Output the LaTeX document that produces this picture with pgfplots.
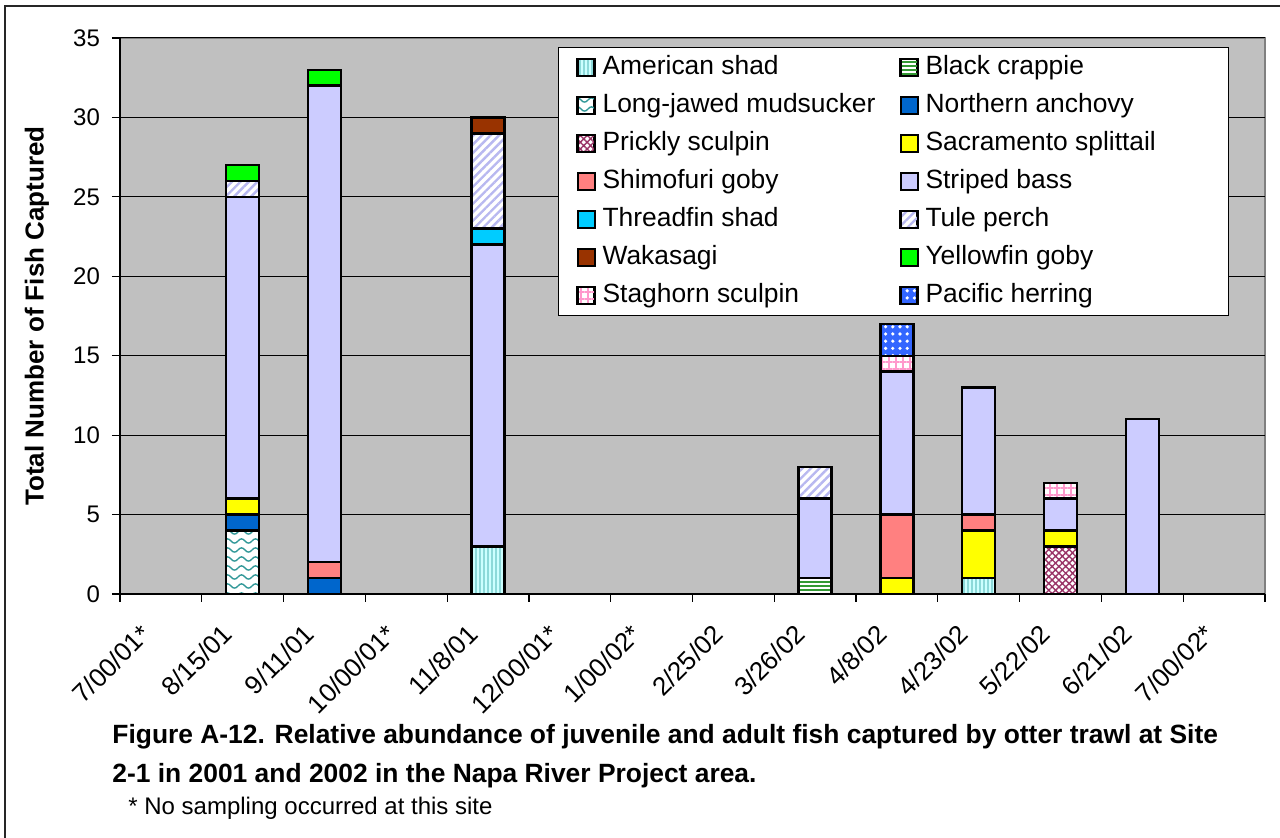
\documentclass[border=0pt]{standalone}
\usepackage{fontspec}
\setmainfont{Liberation Sans}
\usepackage{pgfplots}
\pgfplotsset{compat=1.18}
\usepackage{pgfplotstable}
\usetikzlibrary{patterns,patterns.meta}

\definecolor{plotbg}{HTML}{C0C0C0}
\definecolor{plotedge}{HTML}{808080}
\definecolor{shadbg}{HTML}{CCFFFF}
\definecolor{shadln}{HTML}{8CD9D9}
\definecolor{crappieln}{HTML}{339933}
\definecolor{mudln}{HTML}{339999}
\definecolor{anchovy}{HTML}{0066CC}
\definecolor{prickly}{HTML}{993366}
\definecolor{splittail}{HTML}{FFFF00}
\definecolor{shimofuri}{HTML}{FF8080}
\definecolor{bass}{HTML}{CCCCFF}
\definecolor{threadfin}{HTML}{00CCFF}
\definecolor{tule}{HTML}{B8B8F0}
\definecolor{wakasagi}{HTML}{993300}
\definecolor{yellowfin}{HTML}{00FF00}
\definecolor{staghorn}{HTML}{FF99CC}
\definecolor{herring}{HTML}{3366FF}

% wavy lines for the mudsucker
\pgfdeclarepatternformonly{waves}{\pgfqpoint{0pt}{-1.5pt}}{\pgfqpoint{7pt}{1.5pt}}{\pgfqpoint{7pt}{4.5pt}}{%
  \pgfsetlinewidth{0.7pt}%
  \pgfpathmoveto{\pgfqpoint{0pt}{0pt}}%
  \pgfpathcurveto{\pgfqpoint{1.2pt}{1.4pt}}{\pgfqpoint{2.3pt}{1.4pt}}{\pgfqpoint{3.5pt}{0pt}}%
  \pgfpathcurveto{\pgfqpoint{4.7pt}{-1.4pt}}{\pgfqpoint{5.8pt}{-1.4pt}}{\pgfqpoint{7pt}{0pt}}%
  \pgfusepath{stroke}}

% counts per sampling date (x = category index)
\pgfplotstableread{
x  shad crappie mud anchovy prickly split shimo bass thread tule waka yellow stag herring
1  0    0       4   1       0       1     0     19   0      1    0    1      0    0
2  0    0       0   1       0       0     1     30   0      0    0    1      0    0
4  3    0       0   0       0       0     0     19   1      6    1    0      0    0
8  0    1       0   0       0       0     0     5    0      2    0    0      0    0
9  0    0       0   0       0       1     4     9    0      0    0    0      1    2
10 1    0       0   0       0       3     1     8    0      0    0    0      0    0
11 0    0       0   0       3       1     0     2    0      0    0    0      1    0
12 0    0       0   0       0       0     0     11   0      0    0    0      0    0
}\fishdata

\begin{document}
\begin{tikzpicture}
\path[use as bounding box] (0,0) rectangle (640pt,419pt);
\draw[line width=1pt, black!85] (2.5pt,0) -- (2.5pt,416pt) -- (640pt,416pt);

\begin{axis}[
    at={(60pt,122pt)}, anchor=south west,
    scale only axis, width=572.5pt, height=278pt,
    ybar stacked, bar width=16.5pt,
    xmin=-0.5, xmax=13.5, ymin=0, ymax=35,
    ytick={0,5,...,35},
    xtick={-0.5,0.5,...,13.5}, xticklabels={},
    extra x ticks={0,1,...,13},
    extra x tick labels={7/00/01*,8/15/01,9/11/01,10/00/01*,11/8/01,12/00/01*,1/00/02*,2/25/02,3/26/02,4/8/02,4/23/02,5/22/02,6/21/02,7/00/02*},
    extra x tick style={major tick length=0pt,
        tick label style={font=\fontsize{13}{15}\selectfont, xshift=-11pt, yshift=-9.5pt, rotate=45, anchor=north east}},
    tick align=outside, major tick length=4pt,
    tick style={black, line width=0.6pt},
    tick label style={font=\fontsize{12}{14}\selectfont},
    yticklabel style={xshift=-2.5pt},
    /pgf/number format/assume math mode=true,
    ymajorgrids, grid style={black, line width=0.5pt},
    axis x line*=bottom, axis y line*=left,
    axis line style={black, line width=1pt},
    axis background/.style={fill=plotbg, draw=plotedge, line width=1pt},
    ylabel={Total Number of Fish Captured},
    ylabel style={font=\bfseries\fontsize{13}{15}\selectfont, at={(axis description cs:-0.0725,0.5)}, anchor=center},
    every axis plot/.append style={draw=black, line width=1.2pt},
    legend columns=2,
    legend cell align=left,
    legend image code/.code={\draw[#1, line width=1pt] (0pt,-4.25pt) rectangle (8.5pt,4.25pt);},
    legend style={at={(0.3825,0.984)}, anchor=north west, draw=black, line width=0.6pt, fill=white,
        font=\fontsize{13.2}{15}\selectfont, inner xsep=9pt, inner ysep=0.5pt,
        nodes={text height=10pt, text depth=3pt, inner ysep=3pt},
        /tikz/every odd column/.append style={column sep=1.5pt},
        /tikz/every even column/.append style={column sep=10pt}},
]
\addplot[preaction={fill=shadbg}, pattern={Lines[angle=90, distance=2pt, line width=0.6pt]}, pattern color=shadln] table[x=x, y=shad] {\fishdata};
\addlegendentry{American shad}
\addplot[preaction={fill=white}, pattern={Lines[angle=0, distance=2pt, line width=1pt]}, pattern color=crappieln] table[x=x, y=crappie] {\fishdata};
\addlegendentry{Black crappie}
\addplot[preaction={fill=white}, pattern=waves, pattern color=mudln] table[x=x, y=mud] {\fishdata};
\addlegendentry{Long-jawed mudsucker}
\addplot[fill=anchovy] table[x=x, y=anchovy] {\fishdata};
\addlegendentry{Northern anchovy}
\addplot[preaction={fill=white}, pattern={Hatch[angle=45, distance=2.4pt, line width=0.7pt]}, pattern color=prickly] table[x=x, y=prickly] {\fishdata};
\addlegendentry{Prickly sculpin}
\addplot[fill=splittail] table[x=x, y=split] {\fishdata};
\addlegendentry{Sacramento splittail}
\addplot[fill=shimofuri] table[x=x, y=shimo] {\fishdata};
\addlegendentry{Shimofuri goby}
\addplot[fill=bass] table[x=x, y=bass] {\fishdata};
\addlegendentry{Striped bass}
\addplot[fill=threadfin] table[x=x, y=thread] {\fishdata};
\addlegendentry{Threadfin shad}
\addplot[preaction={fill=white}, pattern={Lines[angle=45, distance=3pt, line width=1.2pt]}, pattern color=tule] table[x=x, y=tule] {\fishdata};
\addlegendentry{Tule perch}
\addplot[fill=wakasagi] table[x=x, y=waka] {\fishdata};
\addlegendentry{Wakasagi}
\addplot[fill=yellowfin] table[x=x, y=yellow] {\fishdata};
\addlegendentry{Yellowfin goby}
\addplot[preaction={fill=white}, pattern={Hatch[angle=0, distance=3.5pt, line width=1pt]}, pattern color=staghorn] table[x=x, y=stag] {\fishdata};
\addlegendentry{Staghorn sculpin}
\addplot[preaction={fill=herring}, pattern={Dots[distance=3.6pt, radius=0.9pt]}, pattern color=white] table[x=x, y=herring] {\fishdata};
\addlegendentry{\makebox[140.5pt][l]{Pacific herring}}
\end{axis}

\node[anchor=base west, inner sep=0pt, font=\bfseries\fontsize{13.2}{15}\selectfont] at (56pt,47pt)
  {Figure A-12. Relative abundance of juvenile and adult fish captured by otter trawl at Site};
\node[anchor=base west, inner sep=0pt, font=\bfseries\fontsize{13.2}{15}\selectfont] at (56pt,27.5pt)
  {2-1 in 2001 and 2002 in the Napa River Project area.};
\node[anchor=base west, inner sep=0pt, font=\fontsize{12}{14}\selectfont] at (64pt,11.5pt)
  {* No sampling occurred at this site};
\end{tikzpicture}
\end{document}
